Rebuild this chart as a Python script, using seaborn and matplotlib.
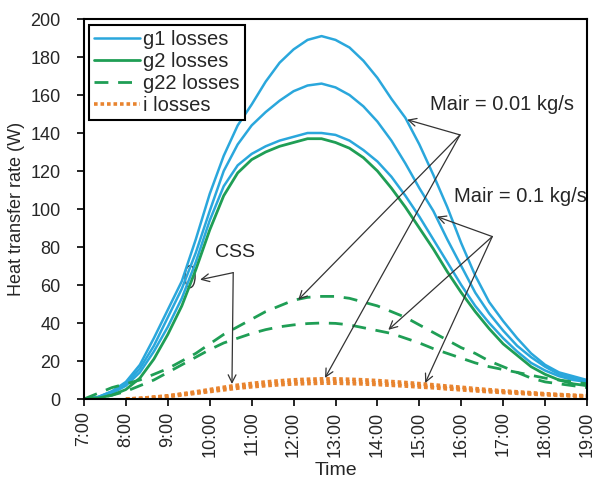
import numpy as np
import pandas as pd
import matplotlib
matplotlib.use("Agg")
import matplotlib.pyplot as plt
from matplotlib.patches import Ellipse
import seaborn as sns

# ---- data ----
time_labels = ["7:00", "7:20", "7:40", "8:00", "8:20", "8:40", "9:00", "9:20", "9:40",
               "10:00", "10:20", "10:40", "11:00", "11:20", "11:40", "12:00", "12:20",
               "12:40", "13:00", "13:20", "13:40", "14:00", "14:20", "14:40", "15:00",
               "15:20", "15:40", "16:00", "16:20", "16:40", "17:00", "17:20", "17:40",
               "18:00", "18:20", "18:40", "19:00"]
tick_labels = ["7:00", "8:00", "9:00", "10:00", "11:00", "12:00", "13:00",
               "14:00", "15:00", "16:00", "17:00", "18:00", "19:00"]

g1_a = [0, 1, 4, 9, 18, 32, 47, 62, 84, 108, 128, 144, 155, 167, 177, 184, 189, 191,
        189, 185, 178, 169, 158, 148, 134, 118, 101, 82, 65, 51, 41, 32, 24, 18, 14, 12, 10]
g1_b = [0, 1, 4, 8, 16, 28, 43, 58, 77, 99, 120, 134, 144, 151, 157, 162, 165, 166,
        164, 160, 154, 146, 136, 124, 111, 99, 84, 70, 56, 45, 36, 28, 22, 17, 13, 11, 9]
g1_css = [0, 1, 3, 7, 14, 25, 38, 53, 72, 94, 112, 123, 129, 133, 136, 138, 140, 140,
          139, 136, 131, 125, 117, 107, 96, 84, 72, 60, 49, 40, 32, 25, 19, 15, 12, 10, 9]
g2_css = [0, 0.5, 2, 5, 11, 21, 34, 49, 68, 89, 107, 119, 126, 130, 133, 135, 137, 137,
          135, 132, 127, 120, 111, 101, 90, 79, 67, 56, 46, 37, 29, 23, 17, 13, 10, 8, 7]
g22_a = [0, 3, 6, 8, 10, 13, 16, 20, 24, 29, 34, 38, 42, 46, 49, 52, 53.5, 54, 54, 53,
         51, 49, 46, 43, 39, 35, 31, 27, 24, 20, 17, 14, 11, 9, 8, 7, 6]
g22_b = [0, 0.5, 2, 4, 7, 10, 14, 18, 22, 26, 29.5, 32, 34.5, 36.5, 38, 39, 39.7, 40,
         39.8, 39, 37.5, 36, 34.5, 32, 29.5, 26.5, 24, 21.5, 19, 17, 15.5, 14, 12.5, 11,
         10, 9, 8]
i_a = [np.nan, np.nan, np.nan, 0, 0.3, 1, 1.7, 2.7, 3.8, 5, 6.2, 7.3, 8.2, 9, 9.6, 10.1,
       10.4, 10.6, 10.6, 10.4, 10.1, 9.7, 9.2, 8.7, 8.1, 7.5, 6.8, 6.2, 5.5, 4.9, 4.3,
       3.8, 3.3, 2.8, 2.4, 2.0, 1.7]
i_b = [np.nan, np.nan, np.nan, 0, 0.3, 0.9, 1.5, 2.4, 3.3, 4.4, 5.5, 6.4, 7.2, 7.9, 8.4,
       8.9, 9.2, 9.3, 9.3, 9.2, 8.9, 8.5, 8.1, 7.7, 7.1, 6.6, 6.0, 5.5, 4.8, 4.3, 3.8,
       3.3, 2.9, 2.5, 2.1, 1.8, 1.5]
i_c = [np.nan, np.nan, np.nan, 0, 0.2, 0.8, 1.3, 2.1, 3.0, 3.9, 4.8, 5.7, 6.4, 7.0, 7.5,
       7.9, 8.1, 8.3, 8.3, 8.1, 7.9, 7.6, 7.2, 6.8, 6.3, 5.9, 5.3, 4.8, 4.3, 3.8, 3.4,
       3.0, 2.6, 2.2, 1.9, 1.6, 1.3]


def to_hours(s):
    h, m = s.split(":")
    return int(h) + int(m) / 60.0


time_h = [to_hours(s) for s in time_labels]
tick_hours = [to_hours(s) for s in tick_labels]

BLUE = "#2AA7DC"
GREEN = "#1F9E55"
ORANGE = "#E8842F"

sns.set_style("white")
plt.rcParams["font.family"] = ["Liberation Sans", "DejaVu Sans"]

fig = plt.figure(figsize=(5.93, 4.79), dpi=100)
ax = fig.add_axes([84 / 593, 1 - 399 / 479, (587 - 84) / 593, (399 - 19) / 479])


def draw(y, color, lw, dashes=None):
    df = pd.DataFrame({"t": time_h, "v": y})
    sns.lineplot(data=df, x="t", y="v", ax=ax, color=color, lw=lw, legend=False)
    ln = ax.lines[-1]
    if dashes is not None:
        ln.set_dashes(dashes)
    return ln


h_g1 = draw(g1_a, BLUE, 1.8)
draw(g1_b, BLUE, 1.8)
draw(g1_css, BLUE, 1.8)
h_g2 = draw(g2_css, GREEN, 2.0)
h_g22 = draw(g22_a, GREEN, 2.0, dashes=(5, 3.5))
draw(g22_b, GREEN, 2.0, dashes=(5, 3.5))
h_i = draw(i_a, ORANGE, 2.6, dashes=(1, 0.8))
draw(i_b, ORANGE, 2.6, dashes=(1, 0.8))
draw(i_c, ORANGE, 2.6, dashes=(1, 0.8))

ax.set_xlim(7, 19)
ax.set_ylim(0, 200)
ax.set_xticks(tick_hours)
ax.set_xticklabels(tick_labels, rotation=90, fontsize=13)
ax.set_yticks(range(0, 201, 20))
ax.tick_params(axis="y", labelsize=13, pad=12)
ax.tick_params(axis="x", pad=4)
ax.tick_params(direction="out", length=5, width=1.2, color="black",
               bottom=True, left=True)
for s in ax.spines.values():
    s.set_color("black")
    s.set_linewidth(1.5)
ax.set_xlabel("Time", fontsize=14, labelpad=4)
ax.set_ylabel("Heat transfer rate (W)", fontsize=13, labelpad=4)

leg = ax.legend([h_g1, h_g2, h_g22, h_i],
                ["g1 losses", "g2 losses", "g22 losses", "i losses"],
                loc="upper left", bbox_to_anchor=(0.006, 0.99), fontsize=14.5,
                frameon=True, fancybox=False, edgecolor="black", framealpha=1,
                borderpad=0.25, labelspacing=0.15, handlelength=2.3,
                handletextpad=0.15, borderaxespad=0.1)
leg.get_frame().set_linewidth(1.5)

# annotations
arrow = dict(arrowstyle="->", color="#333333", lw=0.9, mutation_scale=14,
             shrinkA=0, shrinkB=0)
ax.text(10.6, 77, "CSS", fontsize=14, ha="center", va="center")
ax.add_patch(Ellipse((9.53, 64.4), 0.24, 11.6, fill=False, edgecolor="#333333", lw=1))
css_vertex = (10.56, 66.5)
ax.annotate("", xy=(9.77, 62.8), xytext=css_vertex, arrowprops=arrow)
ax.annotate("", xy=(10.53, 7.9), xytext=css_vertex, arrowprops=arrow)

ax.text(16.98, 155, "Mair = 0.01 kg/s", fontsize=14.5, ha="center", va="center")
v1 = (15.97, 139)
for tgt in [(14.71, 147), (12.11, 52.2), (12.75, 11.1)]:
    ax.annotate("", xy=tgt, xytext=v1, arrowprops=arrow)

ax.text(19.0, 106.6, "Mair = 0.1 kg/s", fontsize=14.5, ha="right", va="center")
v2 = (16.74, 85.5)
for tgt in [(15.42, 96), (14.26, 36.4), (15.14, 8.4)]:
    ax.annotate("", xy=tgt, xytext=v2, arrowprops=arrow)

fig.savefig("out.png", dpi=100)
